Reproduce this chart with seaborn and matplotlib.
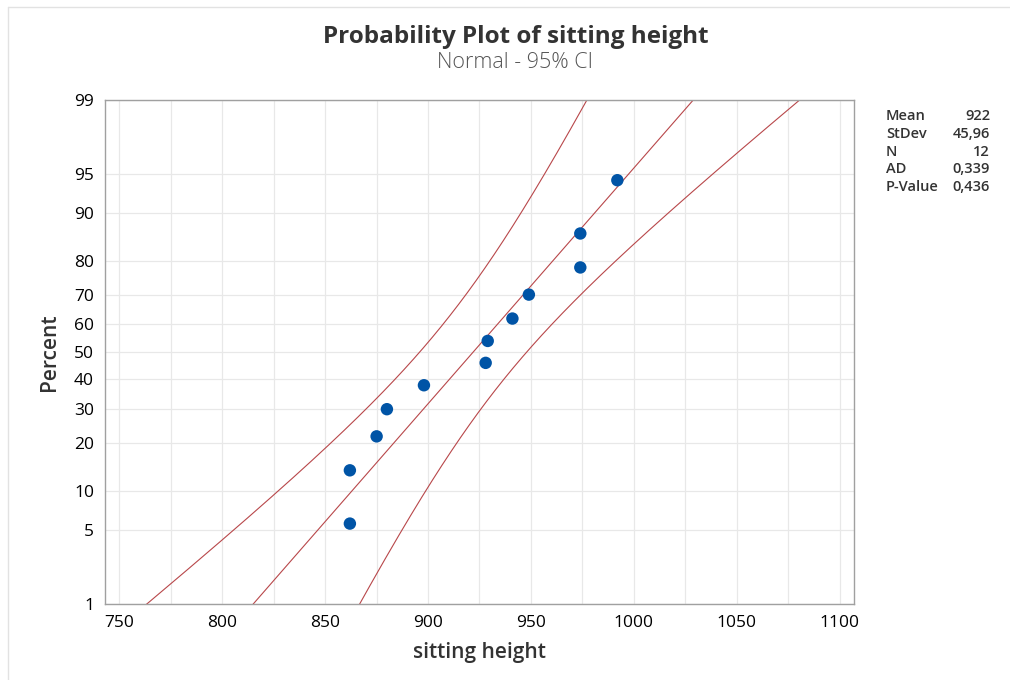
import numpy as np
import pandas as pd
import matplotlib
matplotlib.use('Agg')
import matplotlib.pyplot as plt
import seaborn as sns
from statistics import NormalDist
from matplotlib.lines import Line2D

# sitting height sample
heights = [862, 862, 875, 880, 898, 928, 929, 941, 949, 974, 974, 992]
pct_ticks = [1, 5, 10, 20, 30, 40, 50, 60, 70, 80, 90, 95, 99]
x_ticks = [750, 800, 850, 900, 950, 1000, 1050, 1100]
x_grid = [750, 775, 800, 825, 850, 875, 900, 925, 950, 975, 1000, 1025, 1050, 1075, 1100]
stat_names = ['Mean', 'StDev', 'N', 'AD', 'P-Value']
stat_values = ['922', '45,96', '12', '0,339', '0,436']

sns.set_style('white')
plt.rcParams['font.family'] = ['Open Sans', 'DejaVu Sans']

nd = NormalDist()


def to_z(p):
    p = np.clip(np.asarray(p, dtype=float), 1e-6, 100 - 1e-6)
    return np.array([nd.inv_cdf(v / 100) for v in p.ravel()]).reshape(p.shape)


def to_pct(z):
    z = np.asarray(z, dtype=float)
    return np.array([nd.cdf(v) * 100 for v in z.ravel()]).reshape(z.shape)


# plotting positions (median ranks) and normal fit with 95% CI
n = len(heights)
df = pd.DataFrame({'x': sorted(heights)})
df['pct'] = (np.arange(1, n + 1) - 0.3) / (n + 0.4) * 100
mu = np.mean(heights)
sd = np.std(heights, ddof=1)
p = np.linspace(0.3, 99.7, 400)
z = to_z(p)
half = 1.96 * np.sqrt(sd**2 / n + z**2 * sd**2 / (2 * (n - 1)))
fit = pd.DataFrame({'pct': p, 'mid': mu + z * sd, 'lo': mu + z * sd - half, 'hi': mu + z * sd + half})

fig = plt.figure(figsize=(10.1, 6.8), dpi=100)
ax = fig.add_axes([0.104, 0.112, 0.7415, 0.741])
ax.set_yscale('function', functions=(to_z, to_pct))

red = '#B8474A'
for col in ['lo', 'mid', 'hi']:
    sns.lineplot(data=fit, x=col, y='pct', sort=False, estimator=None, color=red, lw=0.8, ax=ax)
sns.scatterplot(data=df, x='x', y='pct', s=80, color='#0054A6', edgecolor='none', zorder=3, ax=ax)

ax.set_xlim(743, 1107)
ax.set_ylim(1, 99)
ax.set_xticks(x_ticks)
ax.set_xticks(x_grid, minor=True)
ax.set_yticks(pct_ticks)
ax.set_yticklabels([str(t) for t in pct_ticks])
ax.grid(True, which='both', axis='x', color='#E8E8E8', lw=0.9)
ax.grid(True, which='major', axis='y', color='#E8E8E8', lw=0.9)
ax.set_axisbelow(True)
ax.tick_params(which='major', length=5, width=1, color='#A0A0A0', pad=3, labelsize=12.5, labelcolor='#000000')
ax.tick_params(which='minor', length=0)
for lab in ax.get_xticklabels() + ax.get_yticklabels():
    lab.set_fontweight('medium')
for s in ax.spines.values():
    s.set_color('#A0A0A0')
    s.set_linewidth(1)

ax.set_xlabel('sitting height', fontsize=15, fontweight='semibold', color='#333333', labelpad=8)
ax.set_ylabel('Percent', fontsize=15, fontweight='semibold', color='#333333', labelpad=10)

fig.text(516 / 1010, 1 - 37 / 680, 'Probability Plot of sitting height', ha='center', va='center',
         fontsize=17.5, fontweight='bold', color='#333333')
fig.text(515 / 1010, 1 - 63 / 680, 'Normal - 95% CI', ha='center', va='center',
         fontsize=15.5, fontweight='light', color='#555555')

for i, (name, val) in enumerate(zip(stat_names, stat_values)):
    yy = 1 - (116 + i * 17.8) / 680
    fig.text(886 / 1010, yy, name, ha='left', va='center', fontsize=10.5, fontweight='semibold', color='#333333')
    fig.text(990 / 1010, yy, val, ha='right', va='center', fontsize=10.5, fontweight='semibold', color='#333333')

# light frame along the top and left edges
fig.add_artist(Line2D([8 / 1010, 8 / 1010], [0, 1 - 7 / 680], transform=fig.transFigure, color='#E2E2E2', lw=1))
fig.add_artist(Line2D([8 / 1010, 1], [1 - 7 / 680, 1 - 7 / 680], transform=fig.transFigure, color='#E2E2E2', lw=1))

fig.savefig('out.png', dpi=100)
